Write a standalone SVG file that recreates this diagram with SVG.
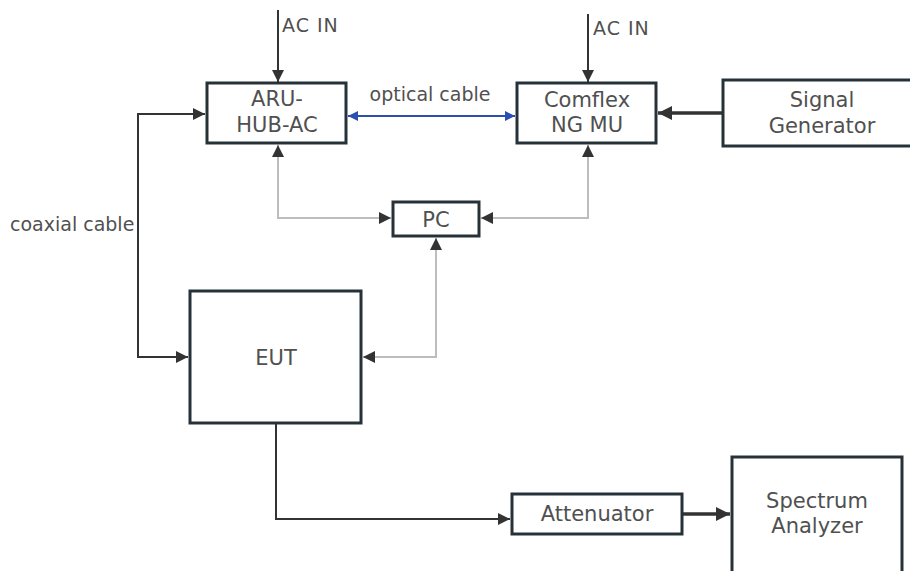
<svg xmlns="http://www.w3.org/2000/svg" width="910" height="571" viewBox="0 0 910 571">
<style>
.box{fill:#fff;stroke:#263238;stroke-width:3}
.lbl{font-family:"DejaVu Sans","Open Sans",sans-serif;font-size:21px;fill:#505050;text-anchor:middle}
.sm{font-family:"DejaVu Sans","Open Sans",sans-serif;font-size:19px;fill:#505050}
.c{fill:none;stroke:#333;stroke-width:2}
.g{fill:none;stroke:#bdbdbd;stroke-width:2}
.b{fill:none;stroke:#2a4fb0;stroke-width:2}
.t{fill:none;stroke:#333;stroke-width:3.5}
</style>
<defs>
<marker id="ah" viewBox="0 0 10 10" refX="10" refY="5" markerWidth="14" markerHeight="12" markerUnits="userSpaceOnUse" orient="auto-start-reverse"><path d="M0,0L10,5L0,10z" fill="#333"/></marker>
<marker id="ab" viewBox="0 0 10 10" refX="10" refY="5" markerWidth="12" markerHeight="10" markerUnits="userSpaceOnUse" orient="auto-start-reverse"><path d="M0,0L10,5L0,10z" fill="#2a4fb0"/></marker>
<marker id="at" viewBox="0 0 10 10" refX="10" refY="5" markerWidth="16" markerHeight="14" markerUnits="userSpaceOnUse" orient="auto-start-reverse"><path d="M0,0L10,5L0,10z" fill="#333"/></marker>
</defs>
<g id="connectors">
<path class="c" d="M278,10V82" marker-end="url(#ah)"/>
<text class="sm" x="282" y="32" font-size="18" letter-spacing="1">AC IN</text>
<path class="c" d="M588,14V82" marker-end="url(#ah)"/>
<text class="sm" x="593" y="35" font-size="18" letter-spacing="1">AC IN</text>
<path class="b" d="M348,116H515" marker-start="url(#ab)" marker-end="url(#ab)"/>
<text class="sm" x="430" y="101" text-anchor="middle">optical cable</text>
<path class="t" d="M722,113H658" marker-end="url(#at)"/>
<path class="c" d="M205,114H138V357H188" marker-start="url(#ah)" marker-end="url(#ah)"/>
<text class="sm" x="10" y="231" font-size="18.5">coaxial cable</text>
<path class="g" d="M278,145V218H391" marker-start="url(#ah)" marker-end="url(#ah)"/>
<path class="g" d="M588,145V218H481" marker-start="url(#ah)" marker-end="url(#ah)"/>
<path class="g" d="M436,238V357H363" marker-start="url(#ah)" marker-end="url(#ah)"/>
<path class="c" d="M276,424V519H510" marker-end="url(#ah)"/>
<path class="t" d="M683,514H730" marker-end="url(#at)"/>
</g>
<g id="aru"><rect class="box" x="207" y="83" width="139" height="60"/><text class="lbl" x="277" y="106">ARU-</text><text class="lbl" x="277" y="132">HUB-AC</text></g>
<g id="comflex"><rect class="box" x="517" y="83" width="139" height="60"/><text class="lbl" x="587" y="107">Comflex</text><text class="lbl" x="587" y="132">NG MU</text></g>
<g id="siggen"><rect class="box" x="723" y="80" width="200" height="66"/><text class="lbl" x="822" y="107">Signal</text><text class="lbl" x="822" y="133">Generator</text></g>
<g id="pc"><rect class="box" x="393" y="202" width="86" height="34"/><text class="lbl" x="436" y="227">PC</text></g>
<g id="eut"><rect class="box" x="190" y="291" width="171" height="132"/><text class="lbl" x="276" y="365">EUT</text></g>
<g id="attenuator"><rect class="box" x="512" y="494" width="170" height="40"/><text class="lbl" x="597" y="521">Attenuator</text></g>
<g id="spectrum"><rect class="box" x="732" y="457" width="170" height="130"/><text class="lbl" x="817" y="508">Spectrum</text><text class="lbl" x="817" y="533">Analyzer</text></g>
</svg>
